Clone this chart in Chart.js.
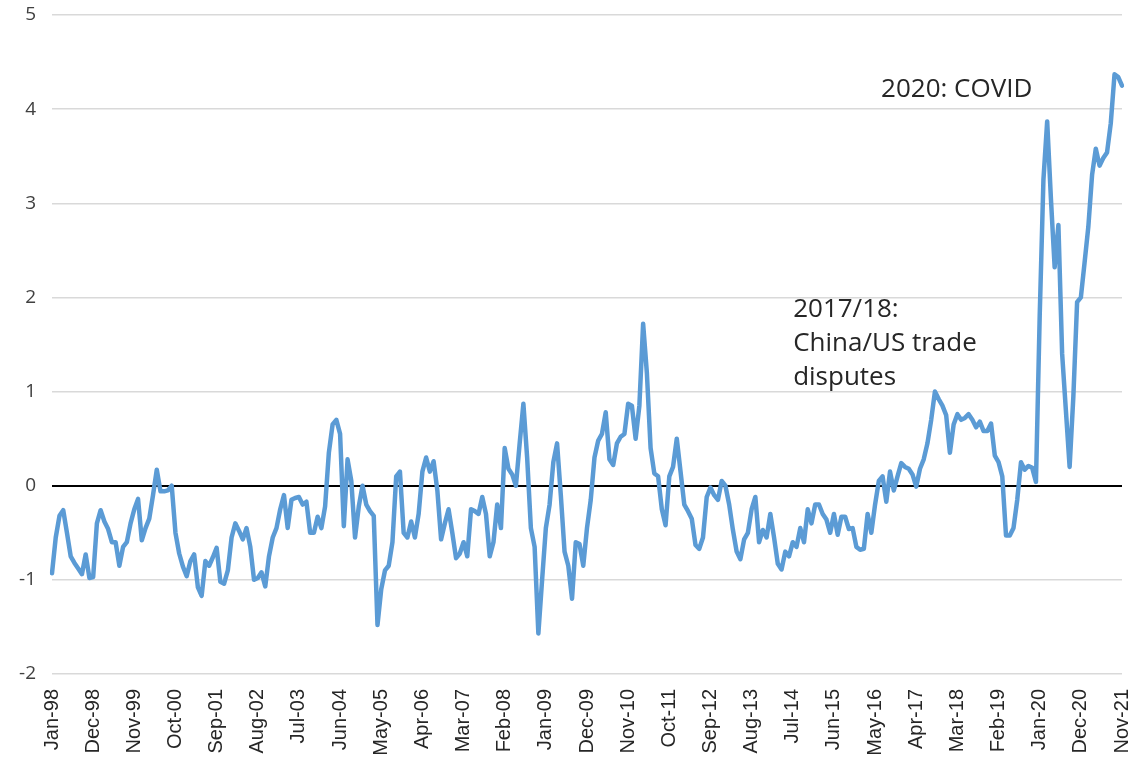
<!DOCTYPE html>
<html>
<head>
<meta charset="utf-8">
<script src="https://cdn.jsdelivr.net/npm/chart.js@4/dist/chart.umd.min.js"></script>
<style>
  html, body { margin: 0; padding: 0; background: #ffffff; }
  #wrap { width: 1130px; height: 762px; position: relative; }
</style>
</head>
<body>
<div id="wrap"><canvas id="c" width="1130" height="762"></canvas></div>
<script>
// Monthly categories: Jan-98 .. Nov-21
const monthNames = ['Jan','Feb','Mar','Apr','May','Jun','Jul','Aug','Sep','Oct','Nov','Dec'];
const startYear = 1998;
const monthCount = 287;
const categories = [];
for (let k = 0; k < monthCount; k++) {
  const y = startYear + Math.floor(k / 12);
  categories.push(monthNames[k % 12] + '-' + String(y % 100).padStart(2, '0'));
}

// Tick labels shown on the x axis
const tickLabels = ['Jan-98','Dec-98','Nov-99','Oct-00','Sep-01','Aug-02','Jul-03','Jun-04','May-05',
  'Apr-06','Mar-07','Feb-08','Jan-09','Dec-09','Nov-10','Oct-11','Sep-12','Aug-13','Jul-14','Jun-15',
  'May-16','Apr-17','Mar-18','Feb-19','Jan-20','Dec-20','Nov-21'];

// Series values
const values1998to2001 = [
  -0.93,-0.55,-0.32,-0.26,-0.50,-0.75,-0.82,-0.88,-0.94,-0.73,-0.98,-0.97,
  -0.40,-0.26,-0.38,-0.46,-0.60,-0.60,-0.85,-0.65,-0.60,-0.40,-0.25,-0.14,
  -0.58,-0.45,-0.35,-0.10,0.17,-0.06,-0.06,-0.05,0.00,-0.50,-0.72,-0.86,
  -0.96,-0.80,-0.73,-1.08,-1.17,-0.80,-0.85,-0.76,-0.66,-1.02,-1.04,-0.90
];
const values2002to2005 = [
  -0.55,-0.40,-0.48,-0.57,-0.45,-0.65,-1.00,-0.98,-0.92,-1.07,-0.75,-0.55,
  -0.45,-0.25,-0.10,-0.45,-0.15,-0.13,-0.12,-0.20,-0.17,-0.50,-0.50,-0.33,
  -0.45,-0.22,0.35,0.65,0.70,0.55,-0.43,0.28,0.05,-0.55,-0.22,0.00,
  -0.20,-0.27,-0.32,-1.48,-1.10,-0.90,-0.85,-0.60,0.10,0.15,-0.50,-0.55
];
const values2006to2009 = [
  -0.38,-0.55,-0.30,0.15,0.30,0.15,0.26,-0.05,-0.57,-0.40,-0.25,-0.50,
  -0.77,-0.72,-0.60,-0.75,-0.25,-0.27,-0.30,-0.12,-0.30,-0.75,-0.60,-0.20,
  -0.45,0.40,0.18,0.12,0.00,0.45,0.87,0.30,-0.45,-0.65,-1.57,-1.00,
  -0.45,-0.20,0.25,0.45,-0.10,-0.70,-0.85,-1.20,-0.60,-0.62,-0.85,-0.45
];
const values2010to2013 = [
  -0.15,0.30,0.48,0.55,0.78,0.28,0.22,0.45,0.52,0.55,0.87,0.85,
  0.50,0.85,1.72,1.20,0.40,0.13,0.10,-0.25,-0.42,0.10,0.20,0.50,
  0.15,-0.20,-0.27,-0.35,-0.63,-0.67,-0.55,-0.12,-0.02,-0.10,-0.15,0.05,
  0.00,-0.20,-0.47,-0.70,-0.78,-0.57,-0.50,-0.25,-0.12,-0.60,-0.47,-0.55
];
const values2014to2017 = [
  -0.30,-0.55,-0.83,-0.89,-0.70,-0.75,-0.60,-0.65,-0.45,-0.60,-0.25,-0.40,
  -0.20,-0.20,-0.30,-0.36,-0.50,-0.30,-0.52,-0.33,-0.33,-0.46,-0.45,-0.65,
  -0.68,-0.67,-0.30,-0.50,-0.20,0.05,0.10,-0.17,0.15,-0.05,0.10,0.24,
  0.20,0.18,0.12,-0.01,0.18,0.28,0.45,0.70,1.00,0.92,0.85,0.75
];
const values2018to2021 = [
  0.35,0.65,0.76,0.70,0.72,0.76,0.70,0.62,0.68,0.58,0.58,0.66,
  0.32,0.25,0.10,-0.53,-0.53,-0.45,-0.15,0.25,0.17,0.21,0.19,0.04,
  1.80,3.25,3.87,3.05,2.32,2.77,1.40,0.80,0.20,0.95,1.95,2.00,
  2.37,2.75,3.30,3.58,3.40,3.48,3.54,3.85,4.37,4.34,4.25
];
const seriesValues = [].concat(values1998to2001, values2002to2005, values2006to2009,
  values2010to2013, values2014to2017, values2018to2021);

// Annotation texts
const annotationCovid = ['2020: COVID'];
const annotationTrade = ['2017/18:', 'China/US trade', 'disputes'];

const annotationPlugin = {
  id: 'notes',
  afterDatasetsDraw(chart) {
    const ctx = chart.ctx;
    const xs = chart.scales.x, ys = chart.scales.y;
    ctx.save();
    ctx.fillStyle = '#262626';
    ctx.font = '26px "Open Sans", sans-serif';
    ctx.textAlign = 'left';
    ctx.textBaseline = 'alphabetic';
    const cx = xs.getPixelForValue(221.6);
    const cy = ys.getPixelForValue(4.13);
    annotationCovid.forEach((t, k) => ctx.fillText(t, cx, cy + k * 34));
    const tx = xs.getPixelForValue(198.1);
    const ty = ys.getPixelForValue(1.79);
    annotationTrade.forEach((t, k) => ctx.fillText(t, tx, ty + k * 34));
    ctx.restore();
  }
};

new Chart(document.getElementById('c'), {
  type: 'line',
  data: {
    labels: categories,
    datasets: [{
      data: seriesValues,
      borderColor: '#5b9bd5',
      borderWidth: 4.5,
      pointRadius: 0,
      tension: 0,
      fill: false,
      borderJoinStyle: 'round',
      borderCapStyle: 'round'
    }]
  },
  options: {
    responsive: false,
    animation: false,
    layout: { padding: { top: 15, right: 8, left: 0, bottom: 0 } },
    plugins: { legend: { display: false }, tooltip: { enabled: false } },
    scales: {
      x: {
        type: 'category',
        offset: false,
        grid: { display: false, drawTicks: false },
        border: { display: false },
        afterFit(scale) { scale.height = 88; scale.paddingLeft = 0; scale.paddingRight = 0; },
        ticks: {
          autoSkip: false,
          maxRotation: 90,
          minRotation: 90,
          padding: 15,
          color: '#262626',
          font: { family: '"Liberation Sans", Arial, sans-serif', size: 20 },
          callback(val, idx) {
            const lab = categories[idx];
            return tickLabels.includes(lab) ? lab : null;
          }
        }
      },
      y: {
        min: -2,
        max: 5,
        grid: {
          drawTicks: false,
          color: (c) => (c.tick && c.tick.value === 0) ? '#000000' : '#d9d9d9',
          lineWidth: (c) => (c.tick && c.tick.value === 0) ? 2 : 1.5
        },
        border: { display: false },
        afterFit(scale) { scale.width = 52; scale.paddingTop = 0; scale.paddingBottom = 0; },
        ticks: {
          stepSize: 1,
          padding: 16,
          color: '#404040',
          font: { family: '"Open Sans", sans-serif', size: 19 }
        }
      }
    }
  },
  plugins: [annotationPlugin]
});
</script>
</body>
</html>
